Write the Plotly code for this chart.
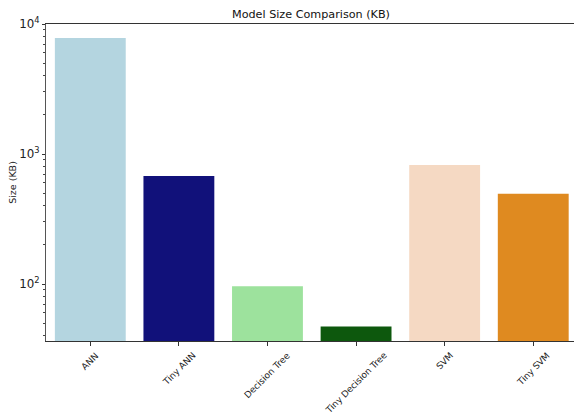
import plotly.graph_objects as go

# Model sizes in kilobytes
models = ["ANN", "Tiny ANN", "Decision Tree", "Tiny Decision Tree", "SVM", "Tiny SVM"]
sizes_kb = [7800, 677, 96, 47, 823, 495]
bar_colors = ["#b4d5e0", "#11117a", "#9de29d", "#0d580d", "#f5d9c3", "#df8a20"]

font_family = "DejaVu Sans, Liberation Sans, sans-serif"

fig = go.Figure(
    go.Bar(
        x=models,
        y=sizes_kb,
        marker=dict(color=bar_colors, line=dict(width=0)),
        width=0.8,
    )
)

fig.update_layout(
    width=574,
    height=414,
    margin=dict(l=46, r=0, t=24, b=73),
    paper_bgcolor="white",
    plot_bgcolor="white",
    font=dict(family=font_family, size=10, color="#222"),
    title=dict(
        text="Model Size Comparison (KB)",
        x=311 / 574,
        xanchor="center",
        y=1 - 14.5 / 414,
        yanchor="middle",
        font=dict(size=11.2, color="#111"),
    ),
    showlegend=False,
    bargap=0.2,
)

# Category labels, rotated 45° and centred under each tick
for name in models:
    fig.add_annotation(
        x=name,
        xref="x",
        y=-8 / 317,
        yref="paper",
        text=name,
        showarrow=False,
        textangle=-45,
        xanchor="center",
        yanchor="top",
        font=dict(size=9, color="#222"),
        borderpad=0,
    )

fig.update_xaxes(
    range=[-0.5, 5.46],
    showline=True,
    linecolor="#333",
    linewidth=1,
    mirror=True,
    ticks="outside",
    ticklen=3.5,
    tickcolor="#333",
    showticklabels=False,
    showgrid=False,
    automargin=False,
)

fig.update_yaxes(
    type="log",
    range=[1.5615, 4.0],
    dtick=1,
    exponentformat="power",
    showline=True,
    linecolor="#555",
    linewidth=1,
    ticks="outside",
    ticklen=3.5,
    tickcolor="#333",
    showgrid=False,
    zeroline=False,
    automargin=False,
    minor=dict(ticks="outside", ticklen=2, tickcolor="#444", dtick="D1", showgrid=False),
    title=dict(text="Size (KB)", font=dict(size=9.5, color="#222"), standoff=0),
    tickfont=dict(size=9.5, color="#222"),
)

fig.write_html("out.html")
